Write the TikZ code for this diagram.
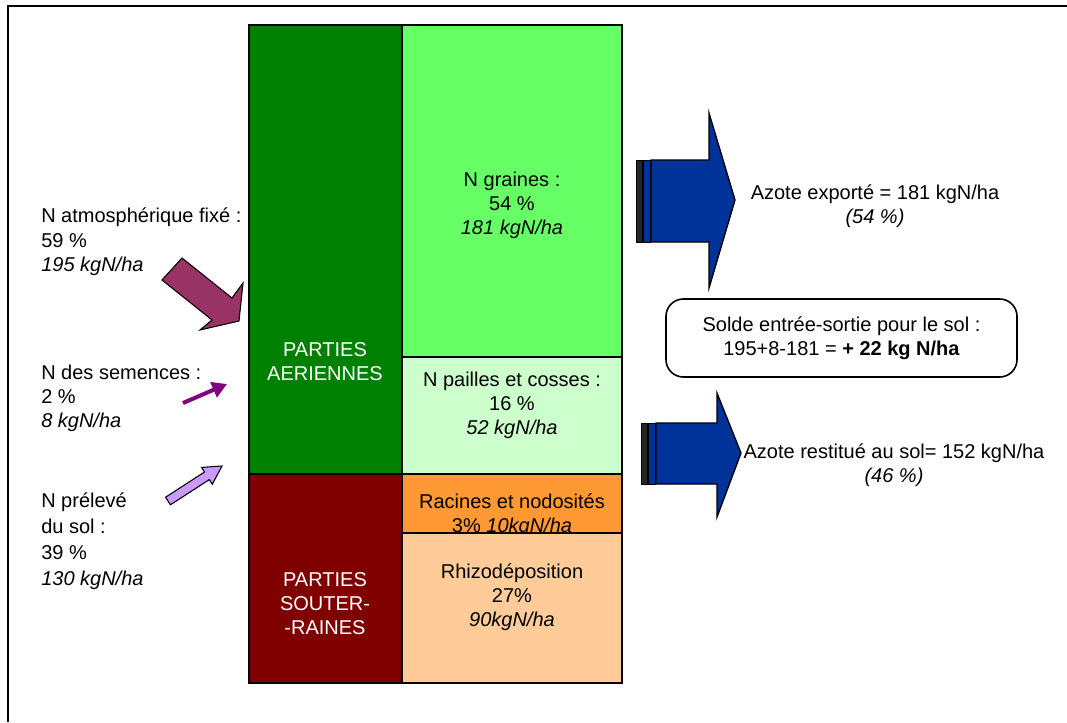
\documentclass[tikz,border=0pt]{standalone}
\usepackage{fontspec}
\setmainfont{Liberation Sans}
\usetikzlibrary{positioning}
\usetikzlibrary{calc}
\usetikzlibrary{arrows.meta}

\definecolor{darkgreen}{HTML}{008000}
\definecolor{darkred}{HTML}{800000}
\definecolor{lightgreen}{HTML}{66FF66}
\definecolor{palegreen}{HTML}{CCFFCC}
\definecolor{orangebox}{HTML}{FF9933}
\definecolor{peachbox}{HTML}{FFCC99}
\definecolor{exportblue}{HTML}{003399}
\definecolor{fixpurple}{HTML}{993366}
\definecolor{seedpurple}{HTML}{800080}
\definecolor{soillilac}{HTML}{CC99FF}

\begin{document}
\begin{tikzpicture}[x=0.75pt,y=-0.75pt,
	txt/.style={font=\fontsize{15}{18}\selectfont},
	box/.style={draw=black,line width=1.5pt},
	blockarrow/.style={draw=black,line width=1pt,fill=exportblue},
	stripe/.style={draw=black,line width=0.5pt,fill=exportblue}]
	\useasboundingbox (0,0) rectangle (1067,722);
	% frame
	\draw[line width=1.2pt] (1067,6) -- (8,6) -- (8,722);

	% boxes of the plant
	\filldraw[box,fill=darkgreen] (249,25) rectangle (402,474);
	\filldraw[box,fill=darkred] (249,474) rectangle (402,683);
	\filldraw[box,fill=lightgreen] (402,25) rectangle (622,357);
	\filldraw[box,fill=palegreen] (402,357) rectangle (622,474);
	\filldraw[box,fill=orangebox] (402,474) rectangle (622,533);
	\node[txt,align=center] (racines) at (512,515) {Racines et nodosités\\3\% \textit{10kgN/ha}};
	\filldraw[box,fill=peachbox] (402,533) rectangle (622,683);

	\node[txt,align=center,text=white] (aeriennes) at (325,362) {PARTIES\\AERIENNES};
	\node[txt,align=center,text=white] (souterraines) at (325,604) {PARTIES\\SOUTER-\\-RAINES};
	\node[txt,align=center] (graines) at (512,205) {N graines :\\54 \%\\\textit{181 kgN/ha}};
	\node[txt,align=center] (pailles) at (512,405) {N pailles et cosses :\\16 \%\\\textit{52 kgN/ha}};
	\node[txt,align=center] (rhizo) at (512,597) {Rhizodéposition\\27\%\\\textit{90kgN/ha}};

	% inputs
	\node[txt,align=left,anchor=north west,inner sep=0pt] (fixe) at (41,208) {N atmosphérique fixé :\\59 \%\\\textit{195 kgN/ha}};
	\node[txt,align=left,anchor=north west,inner sep=0pt] (semences) at (41,365) {N des semences :\\2 \%\\\textit{8 kgN/ha}};
	\node[txt,align=left,anchor=north west,inner sep=0pt,font=\fontsize{15}{19.5}\selectfont] (preleve) at (41,492) {N prélevé\\du sol :\\39 \%\\\textit{130 kgN/ha}};

	\filldraw[draw=black,line width=0.8pt,fill=fixpurple] (182,258) -- (232,298) -- (243,283) -- (239,321) -- (200,330) -- (212,320) -- (162,280) -- cycle;
	\coordinate (seedtail) at (183,403);
	\coordinate (seedtip) at (227,384);
	\draw[seedpurple,line width=3pt,-{Triangle[length=11pt,width=12pt]}] (seedtail) -- (seedtip);
	\filldraw[draw=black,line width=0.8pt,fill=soillilac] (165.6,497.2) -- (204.5,472.0) -- (201.5,467.4) -- (222,466) -- (212.3,484.2) -- (209.3,479.6) -- (170.4,504.8) -- cycle;

	% outputs
	\filldraw[draw=black,line width=0.5pt,fill=black!85] (636,160) rectangle (642,242);
	\filldraw[stripe] (643,160) rectangle (650,242);
	\filldraw[blockarrow] (651,160) -- (709,160) -- (709,113) -- (735,200) -- (709,288) -- (709,242) -- (651,242) -- cycle;
	\node[txt,align=center] (exporte) at (875,206) {Azote exporté = 181 kgN/ha\\\textit{(54 \%)}};

	\filldraw[draw=black,line width=0.5pt,fill=black!85] (641,423) rectangle (647,484);
	\filldraw[stripe] (648,423) rectangle (655,484);
	\filldraw[blockarrow] (656,423) -- (717,423) -- (717,393) -- (741,453) -- (717,517) -- (717,484) -- (656,484) -- cycle;
	\node[txt,align=center] (restitue) at (894,465) {Azote restitué au sol= 152 kgN/ha\\\textit{(46 \%)}};

	\node[txt,align=center,draw=black,line width=1.2pt,rounded corners=13pt,minimum width=263.25pt,minimum height=58.5pt] (solde) at (841.5,338) {Solde entrée-sortie pour le sol :\\195+8-181 = \textbf{+ 22 kg N/ha}};
\end{tikzpicture}
\end{document}
